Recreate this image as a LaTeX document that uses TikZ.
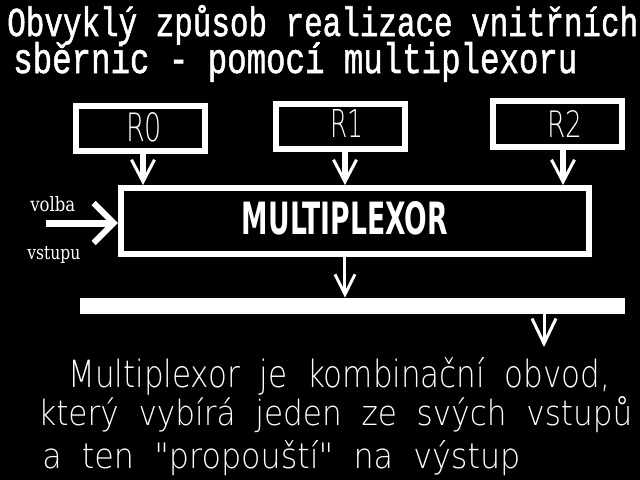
\documentclass[tikz,border=0pt]{standalone}
\usepackage{fontspec}
\usepackage{graphicx}
\usetikzlibrary{arrows.meta, positioning}
\newfontfamily\thinfont[WordSpace=2]{DejaVu Sans ExtraLight}
\newfontfamily\boldsans{DejaVu Sans}
\newfontfamily\slabserif{DejaVu Serif}
\newfontfamily\headfont[FakeBold=1.5]{Liberation Mono}
\newlength\pixel
\setlength\pixel{0.025cm}
\newcommand\fitto[3]{\resizebox{#1\pixel}{#2\pixel}{#3}}

\begin{document}
\begin{tikzpicture}[x=0.025cm, y=-0.025cm,
      reg/.style={rectangle, draw=white, line width=0.15cm, inner sep=0,
                  minimum width=3.2cm, minimum height=1.125cm},
      lbl/.style={inner sep=0, text=white},
      txt/.style={anchor=base west, inner sep=0, text=white},
      feed/.style={white, line width=0.15cm,
                   -{Straight Barb[length=0.55cm, width=0.575cm, line width=0.075cm]}},
      flow/.style={white, line width=0.075cm,
                   -{Straight Barb[length=0.5cm, width=0.5cm, line width=0.075cm]}}]
    \fill[black] (0,0) rectangle (640,480);
    \useasboundingbox (0,0) rectangle (640,480);

    % heading
    \node[txt] (head1) at (7,36) {\fitto{631}{31}{\headfont Obvyklý způsob realizace vnitřních}};
    \node[txt] (head2) at (13,73) {\fitto{564}{31}{\headfont sběrnic - pomocí multiplexoru}};

    % registers
    \node[reg] (R0) at (140.5,128.5) {};
    \node[reg] (R1) at (340.5,126.5) {};
    \node[reg] (R2) at (557.5,124) {};
    \node[lbl] (R0t) at (144,127.5) {\fitto{36}{29}{\thinfont R0}};
    \node[lbl] (R1t) at (346.5,123) {\fitto{33}{28}{\thinfont R1}};
    \node[lbl] (R2t) at (564.5,123.5) {\fitto{35}{27}{\thinfont R2}};

    % multiplexer and bus
    \node[reg, minimum width=11.7cm, minimum height=1.65cm] (mux) at (355,221) {};
    \node[lbl] (muxt) at (345,218.5) {\fitto{206}{33}{\boldsans\bfseries MULTIPLEXOR}};
    \node[rectangle, fill=white, inner sep=0, minimum width=13.625cm,
          minimum height=0.4cm] (bus) at (352.5,306) {};

    \draw[feed] ([xshift=0.0625cm]R0.south) -- ([xshift=0.0625cm]R0.south |- mux.north);
    \draw[feed] ([xshift=0.1125cm]R1.south) -- ([xshift=0.1125cm]R1.south |- mux.north);
    \draw[feed] ([xshift=0.1375cm]R2.south) -- ([xshift=0.1375cm]R2.south |- mux.north);
    \draw[flow] ([xshift=-0.25cm]mux.south) -- ([xshift=-0.25cm]mux.south |- bus.north);

    % select input
    \coordinate (sel) at (46,223);
    \draw[white, line width=0.175cm,
          -{Straight Barb[length=0.5cm, width=1cm, line width=0.15cm]}]
      (sel) -- (sel -| mux.west);
    \node[txt] (volba) at (30,211) {\fitto{45}{15}{\slabserif volba}};
    \node[txt] (vstupu) at (27,259) {\fitto{53}{13}{\slabserif vstupu}};

    % output
    \coordinate (out) at (544,347);
    \draw[flow, -{Straight Barb[length=0.625cm, width=0.6cm, line width=0.075cm]}]
      (bus.south -| out) -- (out);

    % note
    \node[txt] (note1) at (68,387) {\fitto{542}{30}{\thinfont Multiplexor je kombinační obvod,}};
    \node[txt] (note2) at (38,425) {\fitto{594}{29}{\thinfont který vybírá jeden ze svých vstupů}};
    \node[txt] (note3) at (42,468) {\fitto{478}{28}{\thinfont a ten "propouští" na výstup}};
  \end{tikzpicture}
\end{document}
